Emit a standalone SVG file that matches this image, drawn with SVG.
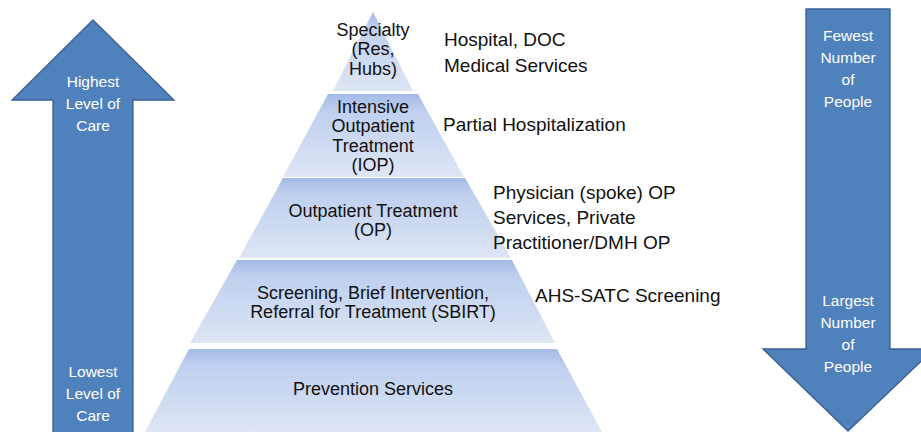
<svg xmlns="http://www.w3.org/2000/svg" width="921" height="432" viewBox="0 0 921 432">
<style>
.arrow{fill:#4f81bd;stroke:#3a6092;stroke-width:1.3}
.layer{fill:url(#lg)}
.at{font-family:"Liberation Sans",Arial,sans-serif;font-size:15.5px;fill:#ffffff;text-anchor:middle}
.pt{font-family:"Liberation Sans",Arial,sans-serif;font-size:18px;fill:#111111;text-anchor:middle}
.rt{font-family:"Liberation Sans",Arial,sans-serif;font-size:19px;fill:#111111}
</style>
<defs>
<linearGradient id="lg" x1="0" y1="0" x2="0" y2="1">
<stop offset="0" stop-color="#a2bbe6"/>
<stop offset="0.2" stop-color="#bfcfee"/>
<stop offset="1" stop-color="#dee6f4"/>
</linearGradient>
</defs>
<rect width="921" height="432" fill="#ffffff"/>

<g id="arrow-care">
<polygon class="arrow" points="93,20 174,100 133,100 133,434 53,434 53,100 12,100"/>
<text class="at" x="93" y="87">Highest</text>
<text class="at" x="93" y="109">Level of</text>
<text class="at" x="93" y="131">Care</text>
<text class="at" x="93" y="377">Lowest</text>
<text class="at" x="93" y="399">Level of</text>
<text class="at" x="93" y="421">Care</text>
</g>

<g id="arrow-people">
<polygon class="arrow" points="806,9 890,9 890,349 934,349 848,431 763,349 806,349"/>
<text class="at" x="848" y="41">Fewest</text>
<text class="at" x="848" y="63">Number</text>
<text class="at" x="848" y="85">of</text>
<text class="at" x="848" y="107">People</text>
<text class="at" x="848" y="306">Largest</text>
<text class="at" x="848" y="328">Number</text>
<text class="at" x="848" y="350">of</text>
<text class="at" x="848" y="372">People</text>
</g>

<g id="layer-specialty">
<polygon class="layer" points="373,12 413,91 333,91"/>
<text class="pt" x="373" y="35.5">Specialty</text>
<text class="pt" x="373" y="55">(Res,</text>
<text class="pt" x="373" y="74.5">Hubs)</text>
</g>

<g id="layer-iop">
<polygon class="layer" points="328,94 418,94 464,177 283,177"/>
<text class="pt" x="373" y="112.5">Intensive</text>
<text class="pt" x="373" y="132">Outpatient</text>
<text class="pt" x="373" y="151.5">Treatment</text>
<text class="pt" x="373" y="171">(IOP)</text>
</g>

<g id="layer-op">
<polygon class="layer" points="283,178 465,178 511,258 239,258"/>
<text class="pt" x="373" y="217">Outpatient Treatment</text>
<text class="pt" x="373" y="236">(OP)</text>
</g>

<g id="layer-sbirt">
<polygon class="layer" points="237,260 512,260 555,343 190,343"/>
<text class="pt" x="373" y="299">Screening, Brief Intervention,</text>
<text class="pt" x="373" y="318">Referral for Treatment (SBIRT)</text>
</g>

<g id="layer-prevention">
<polygon class="layer" points="189,349 557,349 602,432 145,432"/>
<text class="pt" x="373" y="395">Prevention Services</text>
</g>

<g id="label-hospital">
<text class="rt" x="444" y="46">Hospital, DOC</text>
<text class="rt" x="444" y="72">Medical Services</text>
</g>

<g id="label-partial">
<text class="rt" x="443" y="131">Partial Hospitalization</text>
</g>

<g id="label-physician">
<text class="rt" x="493" y="198.5">Physician (spoke) OP</text>
<text class="rt" x="493" y="223.5">Services, Private</text>
<text class="rt" x="493" y="248.5">Practitioner/DMH OP</text>
</g>

<g id="label-ahs">
<text class="rt" x="535" y="302">AHS-SATC Screening</text>
</g>

<g id="connectors"></g>
</svg>
